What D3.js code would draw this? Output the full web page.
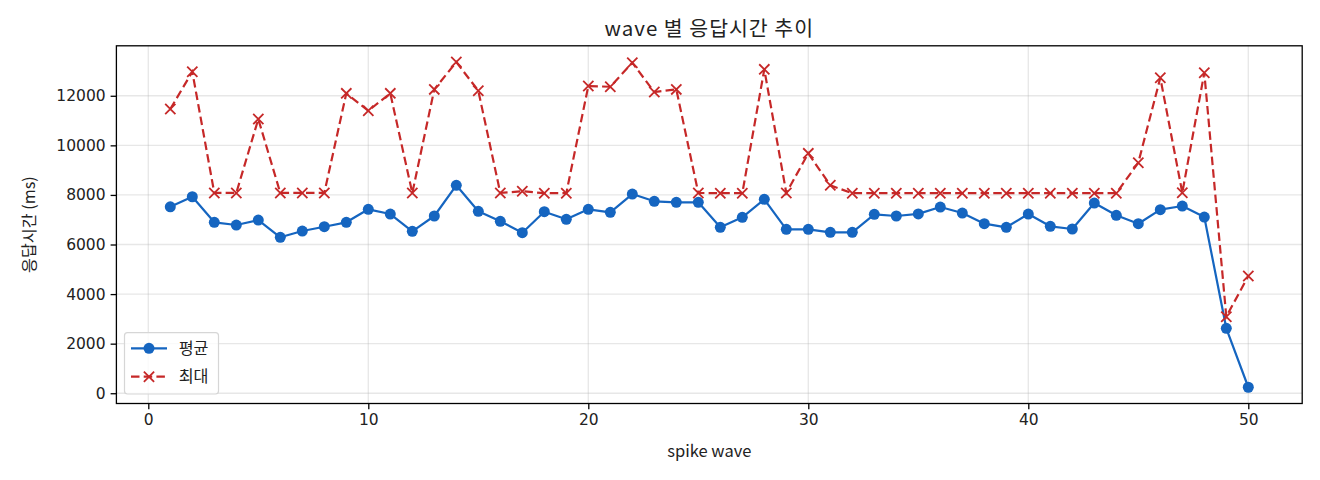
<!DOCTYPE html>
<html>
<head>
<meta charset="utf-8">
<script src="https://cdn.jsdelivr.net/npm/d3@7"></script>
<style>
  html, body { margin: 0; padding: 0; background: #fff; }
  svg { display: block; }
  text { font-family: "Noto Sans CJK KR", "Noto Sans", sans-serif; fill: #222; }
  .tick text { font-family: "DejaVu Sans", sans-serif; font-size: 15.5px; fill: #222; }
</style>
</head>
<body>
<svg id="chart" width="1320" height="480"></svg>
<script>
const waves = d3.range(1, 51);
const avgValues = [7520, 7927, 6895, 6786, 6988, 6290, 6544, 6718, 6895, 7420,
                   7230, 6532, 7150, 8387, 7339, 6935, 6476, 7323, 7016, 7419,
                   7298, 8036, 7742, 7702, 7702, 6694, 7097, 7823, 6613, 6613,
                   6492, 6492, 7218, 7150, 7234, 7512, 7270, 6839, 6694, 7230,
                   6734, 6625, 7673, 7177, 6839, 7407, 7552, 7109, 2621, 242];
const maxValues = [11464, 12968, 8080, 8080, 11060, 8080, 8080, 8080, 12097, 11395,
                   12097, 8080, 12258, 13360, 12204, 8080, 8150, 8070, 8070, 12391,
                   12364, 13335, 12149, 12258, 8080, 8070, 8070, 13065, 8080, 9677,
                   8387, 8070, 8070, 8070, 8070, 8070, 8070, 8070, 8070, 8070,
                   8070, 8070, 8070, 8070, 9298, 12726, 8089, 12927, 3089, 4730];
const xTicks = [0, 10, 20, 30, 40, 50];
const yTicks = [0, 2000, 4000, 6000, 8000, 10000, 12000];
const seriesNames = ["평균", "최대"];
const titleText = "wave 별 응답시간 추이";
const xLabel = "spike wave";
const yLabel = "응답시간 (ms)";

const blue = "#1565c0", red = "#c62828";
const L = 116.4, R = 1302.2, T = 45.8, B = 403.5;

const svg = d3.select("#chart");

const xMin = d3.min(waves), xMax = d3.max(waves);
const xPad = (xMax - xMin) * 0.05;
const x = d3.scaleLinear().domain([xMin - xPad, xMax + xPad]).range([L, R]);
const allY = avgValues.concat(maxValues);
const yMin = d3.min(allY), yMax = d3.max(allY);
const yPad = (yMax - yMin) * 0.05;
const y = d3.scaleLinear().domain([yMin - yPad, yMax + yPad]).range([B, T]);

// grid
const grid = svg.append("g");
grid.selectAll(".gx").data(xTicks).join("line")
  .attr("x1", d => x(d)).attr("x2", d => x(d)).attr("y1", T).attr("y2", B)
  .attr("stroke", "#b0b0b0").attr("stroke-opacity", 0.3).attr("stroke-width", 1.3);
grid.selectAll(".gy").data(yTicks).join("line")
  .attr("x1", L).attr("x2", R).attr("y1", d => y(d)).attr("y2", d => y(d))
  .attr("stroke", "#b0b0b0").attr("stroke-opacity", 0.3).attr("stroke-width", 1.3);

// axes
const xAxis = svg.append("g").attr("transform", `translate(0,${B})`)
  .call(d3.axisBottom(x).tickValues(xTicks).tickFormat(d3.format("d")).tickSize(5.8).tickPadding(5));
const yAxis = svg.append("g").attr("transform", `translate(${L},0)`)
  .call(d3.axisLeft(y).tickValues(yTicks).tickFormat(d => String(d)).tickSize(5.8).tickPadding(5));
[xAxis, yAxis].forEach(a => {
  a.select(".domain").remove();
  a.selectAll(".tick line").attr("stroke", "#000").attr("stroke-width", 1.3);
});

// frame
svg.append("rect").attr("x", L).attr("y", T).attr("width", R - L).attr("height", B - T)
  .attr("fill", "none").attr("stroke", "#000").attr("stroke-width", 1.3);

// lines
const avgData = waves.map((w, i) => [w, avgValues[i]]);
const maxData = waves.map((w, i) => [w, maxValues[i]]);
const line = d3.line().x(d => x(d[0])).y(d => y(d[1]));

svg.append("path").datum(avgData).attr("d", line)
  .attr("fill", "none").attr("stroke", blue).attr("stroke-width", 2.2).attr("stroke-linejoin", "round");
svg.append("g").selectAll("circle").data(avgData).join("circle")
  .attr("cx", d => x(d[0])).attr("cy", d => y(d[1])).attr("r", 5.5).attr("fill", blue);

svg.append("path").datum(maxData).attr("d", line)
  .attr("fill", "none").attr("stroke", red).attr("stroke-width", 2.2)
  .attr("stroke-dasharray", "8.5,4.2");
const cross = d3.symbol().type(d3.symbolX).size(70);
svg.append("g").selectAll("path").data(maxData).join("path")
  .attr("transform", d => `translate(${x(d[0])},${y(d[1])})`)
  .attr("d", cross()).attr("fill", "none").attr("stroke", red).attr("stroke-width", 1.8);

// title & labels
svg.append("text").attr("x", (L + R) / 2).attr("y", 36).attr("text-anchor", "middle")
  .attr("font-size", 20.5).attr("letter-spacing", 1).text(titleText);
svg.append("text").attr("x", (L + R) / 2).attr("y", 457).attr("text-anchor", "middle")
  .attr("font-size", 16.5).text(xLabel);
svg.append("text").attr("transform", `translate(35,${(T + B) / 2}) rotate(-90)`)
  .attr("text-anchor", "middle").attr("font-size", 16.2).text(yLabel);

// legend
const lg = svg.append("g");
lg.append("rect").attr("x", 124.5).attr("y", 332.7).attr("width", 94).attr("height", 61.3)
  .attr("rx", 3).attr("fill", "#fff").attr("fill-opacity", 0.8)
  .attr("stroke", "#d6d6d6").attr("stroke-width", 1.2);
const ly = [348.3, 376.7];
lg.append("line").attr("x1", 131).attr("x2", 167).attr("y1", ly[0]).attr("y2", ly[0])
  .attr("stroke", blue).attr("stroke-width", 2.2);
lg.append("circle").attr("cx", 149).attr("cy", ly[0]).attr("r", 5.5).attr("fill", blue);
lg.append("line").attr("x1", 131).attr("x2", 167).attr("y1", ly[1]).attr("y2", ly[1])
  .attr("stroke", red).attr("stroke-width", 2.2).attr("stroke-dasharray", "8.5,4.2");
lg.append("path").attr("transform", `translate(149,${ly[1]})`).attr("d", cross())
  .attr("fill", "none").attr("stroke", red).attr("stroke-width", 1.8);
lg.selectAll("text.lt").data(seriesNames).join("text")
  .attr("x", 178.7).attr("y", (d, i) => ly[i] + 5.5).attr("font-size", 16.2).text(d => d);
</script>
</body>
</html>
